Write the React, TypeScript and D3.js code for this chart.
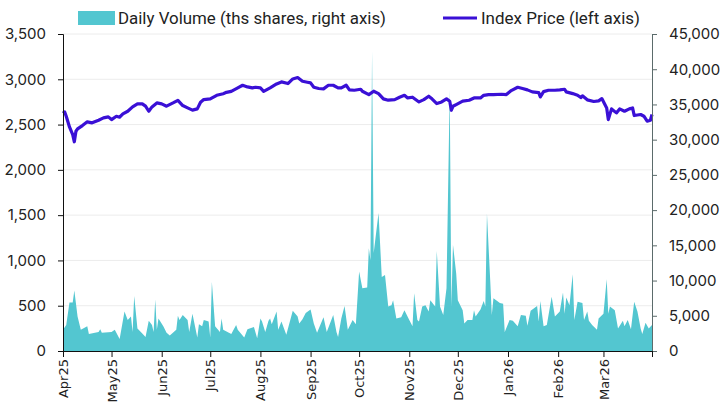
import React, { useEffect, useRef } from 'react';
import * as d3 from 'd3';

// daily volume, ths shares (right axis)
const volumeData: [string, number][] = [
  ['2025-04-01', 3000], ['2025-04-03', 3700], ['2025-04-05', 6900], ['2025-04-07', 6900], ['2025-04-08', 8600],
  ['2025-04-10', 4900], ['2025-04-12', 3000], ['2025-04-16', 3500], ['2025-04-17', 2400], ['2025-04-23', 2700],
  ['2025-04-24', 3100], ['2025-04-25', 2600], ['2025-05-01', 2700], ['2025-05-03', 3000], ['2025-05-06', 1700],
  ['2025-05-09', 5600], ['2025-05-11', 4400], ['2025-05-13', 4900], ['2025-05-14', 2700], ['2025-05-15', 7800],
  ['2025-05-17', 3200], ['2025-05-20', 2500], ['2025-05-22', 2000], ['2025-05-24', 4300], ['2025-05-26', 3700],
  ['2025-05-27', 2700], ['2025-05-28', 7300], ['2025-05-29', 3000], ['2025-05-30', 4600], ['2025-06-02', 3500],
  ['2025-06-04', 2600], ['2025-06-06', 2200], ['2025-06-10', 3000], ['2025-06-11', 5000], ['2025-06-12', 4400],
  ['2025-06-14', 5100], ['2025-06-17', 4400], ['2025-06-18', 2700], ['2025-06-20', 5300], ['2025-06-23', 1900],
  ['2025-06-24', 3800], ['2025-06-26', 3500], ['2025-06-27', 4400], ['2025-06-30', 4200], ['2025-07-01', 1900],
  ['2025-07-02', 9800], ['2025-07-04', 3500], ['2025-07-07', 2700], ['2025-07-08', 4600], ['2025-07-09', 3000],
  ['2025-07-14', 2400], ['2025-07-17', 3700], ['2025-07-18', 3000], ['2025-07-22', 1900], ['2025-07-24', 3100],
  ['2025-07-28', 3400], ['2025-07-30', 1800], ['2025-08-01', 4600], ['2025-08-02', 4200], ['2025-08-04', 2700],
  ['2025-08-06', 4300], ['2025-08-07', 4600], ['2025-08-08', 3800], ['2025-08-11', 5600], ['2025-08-12', 3000],
  ['2025-08-14', 4200], ['2025-08-17', 2300], ['2025-08-21', 5700], ['2025-08-24', 4900], ['2025-08-25', 3900],
  ['2025-08-27', 4500], ['2025-08-29', 5400], ['2025-09-01', 5900], ['2025-09-03', 3900], ['2025-09-05', 2600],
  ['2025-09-09', 4800], ['2025-09-11', 2700], ['2025-09-15', 5100], ['2025-09-17', 2700], ['2025-09-18', 2000],
  ['2025-09-20', 4600], ['2025-09-22', 6400], ['2025-09-24', 3000], ['2025-09-27', 4400], ['2025-09-29', 3800],
  ['2025-10-01', 11300], ['2025-10-03', 8900], ['2025-10-06', 9000], ['2025-10-07', 14600], ['2025-10-08', 12900],
  ['2025-10-09', 42500], ['2025-10-10', 13900], ['2025-10-13', 19600], ['2025-10-15', 10500], ['2025-10-17', 10800],
  ['2025-10-19', 6300], ['2025-10-21', 6500], ['2025-10-22', 7200], ['2025-10-24', 4600], ['2025-10-27', 4800],
  ['2025-10-29', 5800], ['2025-11-01', 4400], ['2025-11-03', 3500], ['2025-11-04', 8200], ['2025-11-06', 4400],
  ['2025-11-07', 4200], ['2025-11-09', 6300], ['2025-11-11', 6500], ['2025-11-13', 5600], ['2025-11-14', 7200],
  ['2025-11-17', 6300], ['2025-11-18', 14200], ['2025-11-20', 6300], ['2025-11-22', 5100], ['2025-11-24', 8900],
  ['2025-11-26', 37100], ['2025-11-27', 6300], ['2025-11-28', 15100], ['2025-11-30', 11000], ['2025-12-01', 7200],
  ['2025-12-04', 5800], ['2025-12-05', 3900], ['2025-12-07', 4400], ['2025-12-10', 4400], ['2025-12-11', 5800],
  ['2025-12-12', 4900], ['2025-12-15', 5900], ['2025-12-17', 7100], ['2025-12-18', 6300], ['2025-12-19', 19500],
  ['2025-12-21', 10100], ['2025-12-22', 5100], ['2025-12-23', 7500], ['2025-12-27', 6800], ['2025-12-29', 6700],
  ['2025-12-30', 2700], ['2026-01-02', 4400], ['2026-01-04', 4300], ['2026-01-07', 3500], ['2026-01-09', 5100],
  ['2026-01-12', 5000], ['2026-01-13', 3600], ['2026-01-15', 5700], ['2026-01-19', 6400], ['2026-01-20', 4200],
  ['2026-01-21', 7100], ['2026-01-23', 3500], ['2026-01-25', 3700], ['2026-01-28', 7700], ['2026-01-30', 4900],
  ['2026-02-02', 5600], ['2026-02-04', 8300], ['2026-02-05', 5300], ['2026-02-06', 7600], ['2026-02-08', 6500],
  ['2026-02-10', 10900], ['2026-02-11', 4400], ['2026-02-13', 7000], ['2026-02-16', 6800], ['2026-02-17', 4400],
  ['2026-02-19', 5600], ['2026-02-20', 4300], ['2026-02-22', 3700], ['2026-02-25', 3000], ['2026-02-26', 4600],
  ['2026-03-01', 5300], ['2026-03-03', 10200], ['2026-03-04', 5300], ['2026-03-05', 6300], ['2026-03-08', 5800],
  ['2026-03-10', 3200], ['2026-03-13', 4300], ['2026-03-14', 3500], ['2026-03-16', 4400], ['2026-03-18', 3100],
  ['2026-03-20', 7000], ['2026-03-22', 5600], ['2026-03-24', 3200], ['2026-03-25', 2400], ['2026-03-27', 4000],
  ['2026-03-29', 3200], ['2026-03-31', 3700],
];

// index price (left axis)
const priceData: [string, number][] = [
  ['2025-04-01', 2625], ['2025-04-02', 2640], ['2025-04-03', 2592], ['2025-04-05', 2474], ['2025-04-07', 2389],
  ['2025-04-08', 2310], ['2025-04-09', 2426], ['2025-04-10', 2452], ['2025-04-13', 2489], ['2025-04-16', 2530],
  ['2025-04-19', 2519], ['2025-04-23', 2548], ['2025-04-26', 2574], ['2025-04-29', 2585], ['2025-05-01', 2555],
  ['2025-05-04', 2592], ['2025-05-06', 2581], ['2025-05-08', 2618], ['2025-05-11', 2647], ['2025-05-14', 2695],
  ['2025-05-17', 2728], ['2025-05-20', 2728], ['2025-05-22', 2703], ['2025-05-24', 2647], ['2025-05-26', 2695],
  ['2025-05-29', 2739], ['2025-06-01', 2728], ['2025-06-04', 2703], ['2025-06-08', 2739], ['2025-06-11', 2768],
  ['2025-06-14', 2710], ['2025-06-17', 2684], ['2025-06-20', 2659], ['2025-06-23', 2673], ['2025-06-25', 2746],
  ['2025-06-27', 2776], ['2025-07-01', 2783], ['2025-07-05', 2823], ['2025-07-09', 2841], ['2025-07-11', 2856],
  ['2025-07-14', 2867], ['2025-07-18', 2905], ['2025-07-21', 2934], ['2025-07-24', 2916], ['2025-07-27', 2905],
  ['2025-07-29', 2912], ['2025-08-01', 2905], ['2025-08-03', 2867], ['2025-08-07', 2905], ['2025-08-11', 2949],
  ['2025-08-14', 2971], ['2025-08-18', 2953], ['2025-08-21', 3004], ['2025-08-24', 3019], ['2025-08-27', 2978],
  ['2025-08-30', 2967], ['2025-09-01', 2960], ['2025-09-03', 2912], ['2025-09-06', 2898], ['2025-09-09', 2894],
  ['2025-09-12', 2934], ['2025-09-15', 2934], ['2025-09-18', 2905], ['2025-09-20', 2905], ['2025-09-23', 2934],
  ['2025-09-25', 2883], ['2025-09-28', 2879], ['2025-10-02', 2890], ['2025-10-03', 2868], ['2025-10-07', 2831],
  ['2025-10-10', 2868], ['2025-10-13', 2842], ['2025-10-16', 2784], ['2025-10-19', 2769], ['2025-10-23', 2776],
  ['2025-10-26', 2802], ['2025-10-29', 2823], ['2025-10-31', 2794], ['2025-11-03', 2802], ['2025-11-07', 2750],
  ['2025-11-10', 2776], ['2025-11-13', 2813], ['2025-11-15', 2784], ['2025-11-18', 2732], ['2025-11-21', 2750],
  ['2025-11-24', 2784], ['2025-11-26', 2758], ['2025-11-27', 2658], ['2025-11-28', 2702], ['2025-11-30', 2721],
  ['2025-12-04', 2758], ['2025-12-08', 2769], ['2025-12-11', 2794], ['2025-12-15', 2794], ['2025-12-17', 2823],
  ['2025-12-20', 2831], ['2025-12-23', 2831], ['2025-12-28', 2835], ['2025-12-31', 2831], ['2026-01-03', 2875],
  ['2026-01-07', 2912], ['2026-01-10', 2898], ['2026-01-13', 2883], ['2026-01-16', 2861], ['2026-01-20', 2853],
  ['2026-01-21', 2805], ['2026-01-23', 2864], ['2026-01-26', 2879], ['2026-01-30', 2879], ['2026-02-02', 2883],
  ['2026-02-05', 2890], ['2026-02-06', 2861], ['2026-02-10', 2842], ['2026-02-13', 2824], ['2026-02-15', 2798],
  ['2026-02-16', 2817], ['2026-02-19', 2773], ['2026-02-23', 2755], ['2026-02-26', 2762], ['2026-02-28', 2787],
  ['2026-03-03', 2684], ['2026-03-04', 2555], ['2026-03-06', 2673], ['2026-03-09', 2629], ['2026-03-11', 2673],
  ['2026-03-14', 2647], ['2026-03-17', 2673], ['2026-03-19', 2684], ['2026-03-20', 2600], ['2026-03-24', 2611],
  ['2026-03-26', 2592], ['2026-03-28', 2537], ['2026-03-30', 2548], ['2026-03-31', 2611],
];

const leftTicks = [0, 500, 1000, 1500, 2000, 2500, 3000, 3500];
const rightTicks = [0, 5000, 10000, 15000, 20000, 25000, 30000, 35000, 40000, 45000];
const dateRange = ['2025-04-01', '2026-03-31'];
const volumeLabel = 'Daily Volume (ths shares, right axis)';
const priceLabel = 'Index Price (left axis)';

const VOL_COLOR = '#53c6d0';
const LINE_COLOR = '#3a10d6';
const TEXT_COLOR = '#222';

const App = () => {
  const ref = useRef<SVGSVGElement>(null);

  useEffect(() => {
    const svg = d3.select(ref.current);
    svg.selectAll('*').remove();

    const margin = { top: 34, right: 68, bottom: 57, left: 63 };
    const width = 720, height = 408;
    const parse = d3.timeParse('%Y-%m-%d');

    const vol = volumeData.map(([d, v]) => ({ date: parse(d) as Date, value: v }));
    const price = priceData.map(([d, v]) => ({ date: parse(d) as Date, value: v }));

    const x = d3.scaleTime()
      .domain(dateRange.map((d) => parse(d) as Date))
      .range([margin.left, width - margin.right]);
    const yLeft = d3.scaleLinear().domain([0, 3500]).range([height - margin.bottom, margin.top]);
    const yRight = d3.scaleLinear().domain([0, 45000]).range([height - margin.bottom, margin.top]);

    // horizontal grid from the left axis
    svg.append('g')
      .selectAll('line')
      .data(leftTicks.filter((t) => t > 0))
      .join('line')
        .attr('x1', margin.left)
        .attr('x2', width - margin.right)
        .attr('y1', (d) => yLeft(d))
        .attr('y2', (d) => yLeft(d))
        .attr('stroke', '#ececec')
        .attr('stroke-width', 1);

    const area = d3.area<{ date: Date; value: number }>()
      .x((d) => x(d.date))
      .y0(yRight(0))
      .y1((d) => yRight(d.value));

    svg.append('path')
      .datum(vol)
      .attr('d', area)
      .attr('fill', VOL_COLOR);

    const line = d3.line<{ date: Date; value: number }>()
      .x((d) => x(d.date))
      .y((d) => yLeft(d.value));

    svg.append('path')
      .datum(price)
      .attr('d', line)
      .attr('fill', 'none')
      .attr('stroke', LINE_COLOR)
      .attr('stroke-width', 3.2)
      .attr('stroke-linejoin', 'round');

    // axes
    const fmt = d3.format(',');
    const left = svg.append('g')
      .attr('transform', `translate(${margin.left},0)`)
      .call(d3.axisLeft(yLeft).tickValues(leftTicks).tickFormat((d) => fmt(d as number)).tickSize(5).tickPadding(12));
    left.select('.domain').attr('stroke', '#111');
    left.selectAll('.tick line').attr('stroke', '#111');
    left.selectAll('text')
      .attr('fill', TEXT_COLOR)
      .style('font-family', 'Inter, sans-serif')
      .style('font-size', '15px');

    const right = svg.append('g')
      .attr('transform', `translate(${width - margin.right},0)`)
      .call(d3.axisRight(yRight).tickValues(rightTicks).tickFormat((d) => fmt(d as number)).tickSize(5).tickPadding(12));
    right.select('.domain').attr('stroke', '#5b6b6b');
    right.selectAll('.tick line').attr('stroke', '#5b6b6b');
    right.selectAll('text')
      .attr('fill', TEXT_COLOR)
      .style('font-family', 'Inter, sans-serif')
      .style('font-size', '15px');

    const months = d3.timeMonth.range(x.domain()[0], x.domain()[1]);
    const tickDates = [...months, x.domain()[1]];
    const monthFmt = d3.timeFormat('%b%y');
    const bottom = svg.append('g')
      .attr('transform', `translate(0,${height - margin.bottom})`)
      .call(d3.axisBottom(x).tickValues(tickDates)
        .tickFormat((d, i) => (i < months.length ? monthFmt(d as Date) : ''))
        .tickSize(6).tickSizeOuter(0));
    bottom.select('.domain').attr('stroke', '#111');
    bottom.selectAll('.tick line').attr('stroke', '#111');
    bottom.selectAll('text')
      .attr('fill', TEXT_COLOR)
      .attr('x', 0)
      .attr('y', 0)
      .attr('dy', '0.35em')
      .attr('transform', 'translate(0,8) rotate(-90)')
      .style('text-anchor', 'end')
      .style('font-family', 'DejaVu Sans, sans-serif')
      .style('font-size', '13px');

    // legend
    const legend = svg.append('g').style('font-family', 'Roboto, sans-serif').style('font-size', '17px');
    legend.append('rect')
      .attr('x', 78).attr('y', 11).attr('width', 37).attr('height', 14)
      .attr('fill', VOL_COLOR);
    legend.append('text')
      .attr('x', 118).attr('y', 24)
      .attr('textLength', 268).attr('lengthAdjust', 'spacingAndGlyphs')
      .attr('fill', TEXT_COLOR)
      .text(volumeLabel);
    legend.append('line')
      .attr('x1', 443).attr('x2', 477).attr('y1', 18).attr('y2', 18)
      .attr('stroke', LINE_COLOR).attr('stroke-width', 3);
    legend.append('text')
      .attr('x', 481).attr('y', 24)
      .attr('textLength', 159).attr('lengthAdjust', 'spacingAndGlyphs')
      .attr('fill', TEXT_COLOR)
      .text(priceLabel);
  }, []);

  return (
    <svg ref={ref} width={720} height={408} style={{ position: 'absolute', left: 0, top: 0, background: '#fff' }}></svg>
  );
};

export default App;
